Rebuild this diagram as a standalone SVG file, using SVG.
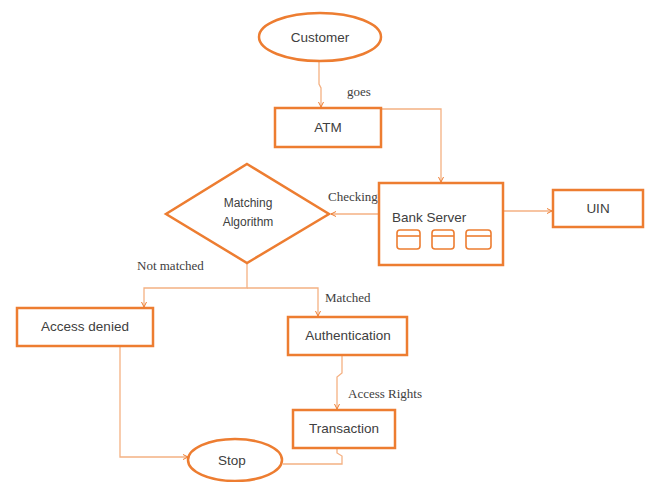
<svg xmlns="http://www.w3.org/2000/svg" width="646" height="482" viewBox="0 0 646 482">
<style>
.node{fill:#fff;stroke:#ED7D31;stroke-width:2.5}
.cyl{fill:#fff;stroke:#ED7D31;stroke-width:1.6}
.t{font-family:"Liberation Sans",Arial,sans-serif;font-size:13.5px;fill:#404040;text-anchor:middle}
.l{font-family:"Liberation Serif","Times New Roman",serif;font-size:13px;fill:#404040}
.c{fill:none;stroke:#F4B183;stroke-width:1.3}
</style>
<defs>
<marker id="ah" markerWidth="6" markerHeight="6" refX="5" refY="3" orient="auto" markerUnits="userSpaceOnUse">
<path d="M0,0.5 L5,3 L0,5.5" fill="none" stroke="#ED7D31" stroke-width="1"/>
</marker>
</defs>
<rect width="646" height="482" fill="#fff"/>
<g id="connectors">
<path class="c" d="M319,62 V84 L321,88 V107" marker-end="url(#ah)"/>
<path class="c" d="M381,109 H441 V182" marker-end="url(#ah)"/>
<path class="c" d="M503,211 H552" marker-end="url(#ah)"/>
<path class="c" d="M379,214 H331" marker-end="url(#ah)"/>
<path class="c" d="M247,263 V288 H144 V307" marker-end="url(#ah)"/>
<path class="c" d="M247,288 H318 V316" marker-end="url(#ah)"/>
<path class="c" d="M120,346 V457 H188" marker-end="url(#ah)"/>
<path class="c" d="M342,355 V373 L337,377 V409" marker-end="url(#ah)"/>
<path class="c" d="M337,449 V453 L342,456 V464 H283"/>
</g>
<g id="customer">
<ellipse class="node" cx="320" cy="37" rx="61" ry="24"/>
<text class="t" x="320" y="42">Customer</text>
</g>
<text class="l" x="347" y="96">goes</text>
<g id="atm">
<rect class="node" x="275" y="108" width="106" height="39"/>
<text class="t" x="328" y="132">ATM</text>
</g>
<g id="matching">
<polygon class="node" points="247,164 329,214 247,263 166,214"/>
<text class="t" x="248" y="207" style="font-size:12px">Matching</text>
<text class="t" x="248" y="226" style="font-size:12px">Algorithm</text>
</g>
<text class="l" x="328" y="201">Checking</text>
<g id="bankserver">
<rect class="node" x="379" y="183" width="124" height="82"/>
<text class="t" x="392" y="222" style="text-anchor:start">Bank Server</text>
<g>
<rect class="cyl" x="397" y="230" width="23" height="19" rx="3"/>
<path class="cyl" d="M397,236 H420"/>
<rect class="cyl" x="432" y="230" width="22" height="19" rx="3"/>
<path class="cyl" d="M432,236 H454"/>
<rect class="cyl" x="466" y="230" width="25" height="19" rx="3"/>
<path class="cyl" d="M466,236 H491"/>
</g>
</g>
<g id="uin">
<rect class="node" x="553" y="190" width="90" height="37"/>
<text class="t" x="598" y="213">UIN</text>
</g>
<text class="l" x="137" y="270">Not matched</text>
<text class="l" x="325" y="302">Matched</text>
<g id="accessdenied">
<rect class="node" x="17" y="308" width="136" height="38"/>
<text class="t" x="85" y="331">Access denied</text>
</g>
<g id="authentication">
<rect class="node" x="288" y="317" width="119" height="38"/>
<text class="t" x="348" y="340">Authentication</text>
</g>
<text class="l" x="348" y="398">Access Rights</text>
<g id="transaction">
<rect class="node" x="293" y="410" width="102" height="38"/>
<text class="t" x="344" y="433">Transaction</text>
</g>
<g id="stop">
<ellipse class="node" cx="235" cy="460" rx="47" ry="21"/>
<text class="t" x="232" y="465">Stop</text>
</g>
</svg>
